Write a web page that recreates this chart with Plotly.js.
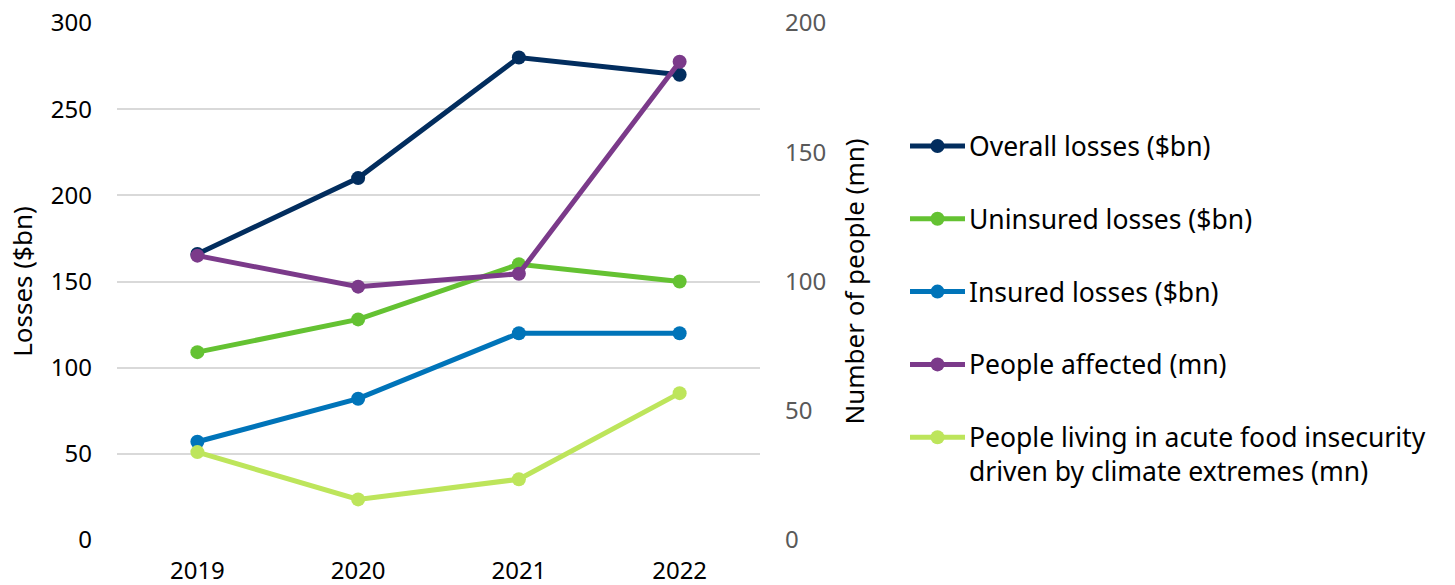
<!DOCTYPE html>
<html>
<head>
<meta charset="utf-8">
<script src="https://cdn.plot.ly/plotly-3.0.1.min.js"></script>
<style>
  html, body { margin: 0; padding: 0; background: #ffffff; }
  #chart { width: 1455px; height: 585px; }
</style>
</head>
<body>
<div id="chart"></div>
<script>
// Years on the category axis
const years = ['2019', '2020', '2021', '2022'];

// Economic losses from weather and climate disasters, $bn (left axis)
const overallLosses = [166, 210, 280, 270];
const uninsuredLosses = [109, 128, 160, 150];
const insuredLosses = [57, 82, 120, 120];

// People, millions (right axis)
const peopleAffected = [110, 98, 103, 185];
const foodInsecurity = [34, 15.7, 23.5, 56.8];

const seriesNames = [
  'Overall losses ($bn)',
  'Uninsured losses ($bn)',
  'Insured losses ($bn)',
  'People affected (mn)',
  'People living in acute food insecurity<br>driven by climate extremes (mn)'
];
const seriesColors = ['#022d5e', '#64c232', '#0074b9', '#7b3a8a', '#bde55b'];
const seriesValues = [overallLosses, uninsuredLosses, insuredLosses, peopleAffected, foodInsecurity];
const seriesAxes = ['y', 'y', 'y', 'y2', 'y2'];

const FONT = '"Noto Sans", "Open Sans", sans-serif';
const W = 1455, H = 585;
const M = { l: 117, r: 695, t: 23, b: 45 };
const plotW = W - M.l - M.r;
const plotH = H - M.t - M.b;

// pixel -> paper coordinate helpers for the key drawn beside the plot
const px = (x) => (x - M.l) / plotW;
const py = (y) => (H - M.b - y) / plotH;

const LINE_W = 5;
const MARK = 14;

const traces = seriesValues.map((vals, i) => ({
  x: years,
  y: vals,
  name: seriesNames[i],
  type: 'scatter',
  mode: 'lines+markers',
  yaxis: seriesAxes[i],
  line: { color: seriesColors[i], width: LINE_W },
  marker: { color: seriesColors[i], size: MARK },
  cliponaxis: false,
  showlegend: false,
  hoverinfo: 'skip'
}));

// Key: line sample with a dot, followed by the series name
const keyTop = 146, keyStep = 72.8, keyX0 = 910, keyX1 = 965, keyText = 967;
const shapes = [];
const annotations = [];
seriesNames.forEach((name, i) => {
  const yc = keyTop + i * keyStep;
  shapes.push({
    type: 'line', xref: 'paper', yref: 'paper',
    x0: px(keyX0), x1: px(keyX1), y0: py(yc), y1: py(yc),
    line: { color: seriesColors[i], width: LINE_W }
  });
  const xm = (keyX0 + keyX1) / 2;
  shapes.push({
    type: 'circle', xref: 'paper', yref: 'paper',
    x0: px(xm - MARK / 2), x1: px(xm + MARK / 2),
    y0: py(yc + MARK / 2), y1: py(yc - MARK / 2),
    fillcolor: seriesColors[i], line: { width: 0 }
  });
  const lines = name.split('<br>').length;
  const lineH = 34;
  annotations.push({
    xref: 'paper', yref: 'paper',
    x: px(keyText), y: py(yc + (lines - 1) * lineH / 2),
    xanchor: 'left', yanchor: 'middle', align: 'left',
    text: name, showarrow: false,
    font: { family: FONT, size: 26.5, color: '#000000' }
  });
});

const layout = {
  width: W,
  height: H,
  margin: M,
  paper_bgcolor: '#ffffff',
  plot_bgcolor: '#ffffff',
  font: { family: FONT, size: 24, color: '#000000' },
  showlegend: false,
  shapes: shapes,
  annotations: annotations,
  xaxis: {
    type: 'category',
    range: [-0.5, 3.5],
    showgrid: false,
    zeroline: false,
    showline: false,
    ticks: '',
    ticklabelstandoff: 14,
    tickfont: { family: FONT, size: 24, color: '#000000' },
    fixedrange: true
  },
  yaxis: {
    range: [0, 300],
    tickvals: [0, 50, 100, 150, 200, 250, 300],
    showgrid: true,
    gridcolor: '#d9d9d9',
    gridwidth: 2,
    zeroline: false,
    showline: false,
    ticks: '',
    ticklabelstandoff: 24,
    tickfont: { family: FONT, size: 24, color: '#000000' },
    title: { text: 'Losses ($bn)', font: { family: FONT, size: 26, color: '#000000' }, standoff: 10 },
    fixedrange: true
  },
  yaxis2: {
    overlaying: 'y',
    side: 'right',
    range: [0, 200],
    tickvals: [0, 50, 100, 150, 200],
    showgrid: false,
    zeroline: false,
    showline: false,
    ticks: '',
    ticklabelstandoff: 24,
    tickfont: { family: FONT, size: 24, color: '#595959' },
    title: { text: 'Number of people (mn)', font: { family: FONT, size: 26, color: '#000000' }, standoff: 20 },
    fixedrange: true
  }
};

Plotly.newPlot('chart', traces, layout, { displayModeBar: false, staticPlot: true });
</script>
</body>
</html>
